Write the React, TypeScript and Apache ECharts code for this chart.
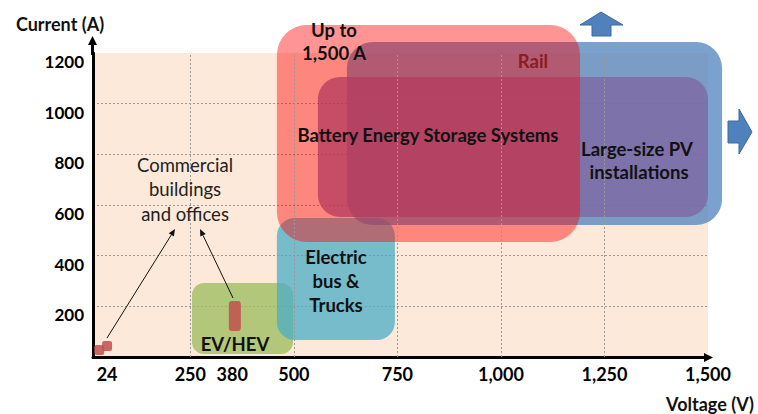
import React, { useEffect, useRef } from "react";
import * as echarts from "echarts";

// Application regions (voltage range in V, current range in A)
const regionNames = ["EV/HEV", "Electric bus & Trucks", "Large-size PV installations", "Battery Energy Storage Systems", "Rail"];
const regionVoltFrom = [254, 459, 628, 558, 459];
const regionVoltTo = [498, 744, 1534, 1500, 1191];
const regionAmpFrom = [12, 67, 521, 553, 454];
const regionAmpTo = [292, 549, 1243, 1105, 1311];

// Small markers (24 V systems and 380 V commercial)
const markNames = ["24 V (a)", "24 V (b)", "380 V"];
const markVoltFrom = [18, 37, 343];
const markVoltTo = [42, 61, 372];
const markAmpFrom = [8, 24, 103];
const markAmpTo = [47, 63, 221];

// Axis ticks
const xGridValues = [250, 500, 750, 1000, 1250];
const xLabelValues = [49, 250, 351, 500, 750, 1000, 1250, 1500];
const xLabelTexts = ["24", "250", "380", "500", "750", "1,000", "1,250", "1,500"];
const yMin = 0;
const yMax = 1200;
const yStep = 200;

const regionFill = [
  "rgba(155,187,89,0.75)",
  "rgba(75,172,198,0.75)",
  "rgba(79,129,189,0.75)",
  "rgba(128,100,162,0.75)",
  "rgba(255,0,0,0.42)",
];
const regionRadius = [12, 18, 26, 22, 30];

const FONT = "Lato, 'Open Sans', sans-serif";

function arrow(x1: number, y1: number, x2: number, y2: number) {
  const dx = x2 - x1;
  const dy = y2 - y1;
  const L = Math.hypot(dx, dy);
  const ux = dx / L;
  const uy = dy / L;
  const hl = 7;
  const hw = 3;
  const bx = x2 - ux * hl;
  const by = y2 - uy * hl;
  return [
    { type: "line", shape: { x1, y1, x2: bx, y2: by }, style: { stroke: "#111", lineWidth: 1 }, z: 50 },
    {
      type: "polygon",
      shape: { points: [[x2, y2], [bx - uy * hw, by + ux * hw], [bx + uy * hw, by - ux * hw]] },
      style: { fill: "#111" },
      z: 50,
    },
  ];
}

function txt(text: string, x: number, y: number, opts: any = {}) {
  return {
    type: "text",
    x,
    y,
    z: 60,
    style: {
      text,
      fontFamily: FONT,
      fontSize: opts.fontSize ?? 18.5,
      fontWeight: opts.fontWeight ?? "bold",
      fill: opts.fill ?? "#111",
      align: "center",
      verticalAlign: "middle",
    },
  };
}

export default function App() {
  const ref = useRef<HTMLDivElement>(null);

  useEffect(() => {
    document.body.style.margin = "0";
    if (!ref.current) return;
    const chart = echarts.init(ref.current, undefined, { renderer: "svg" });

    const regionData = regionNames.map((n, i) => ({
      name: n,
      value: [regionVoltFrom[i], regionVoltTo[i], regionAmpFrom[i], regionAmpTo[i]],
    }));
    const markData = markNames.map((n, i) => ({
      name: n,
      value: [markVoltFrom[i], markVoltTo[i], markAmpFrom[i], markAmpTo[i]],
    }));

    const rectItem = (fills: string[], radii: number[]) => (params: any, api: any) => {
      const p0 = api.coord([api.value(0), api.value(3)]);
      const p1 = api.coord([api.value(1), api.value(2)]);
      const i = params.dataIndex;
      return {
        type: "rect",
        shape: { x: p0[0], y: p0[1], width: p1[0] - p0[0], height: p1[1] - p0[1], r: radii[i] },
        style: { fill: fills[i] },
      };
    };

    const gridLine = { type: [2, 2], color: "#999", width: 1 };

    const option: any = {
      animation: false,
      grid: {
        left: 93,
        right: 50,
        top: 53,
        bottom: 57,
        show: true,
        backgroundColor: "#FCE9DA",
        borderWidth: 0,
      },
      xAxis: {
        type: "value",
        min: 15,
        max: 1500,
        axisLine: { show: true, onZero: false, lineStyle: { color: "#000", width: 3 } },
        axisTick: { show: false },
        splitLine: { show: false },
        axisLabel: {
          customValues: xLabelValues,
          formatter: (v: number) => {
            const k = xLabelValues.indexOf(v);
            return k >= 0 ? xLabelTexts[k] : "";
          },
          fontFamily: FONT,
          fontWeight: "bold",
          fontSize: 18,
          color: "#000",
          margin: 8,
        },
      },
      yAxis: {
        type: "value",
        min: yMin,
        max: yMax,
        interval: yStep,
        axisLine: { show: true, onZero: false, lineStyle: { color: "#000", width: 3 } },
        axisTick: { show: false },
        axisLabel: {
          formatter: (v: number) => (v === 0 ? "" : String(v)),
          fontFamily: FONT,
          fontWeight: "bold",
          fontSize: 17,
          color: "#000",
          margin: 9,
          verticalAlign: "top",
        },
        splitLine: { show: true, showMinLine: false, showMaxLine: false, lineStyle: gridLine },
      },
      series: [
        {
          type: "scatter",
          data: [],
          z: 1,
          markLine: {
            silent: true,
            symbol: ["none", "none"],
            label: { show: false },
            lineStyle: gridLine,
            data: xGridValues.map((v) => ({ xAxis: v })),
          },
        },
        {
          type: "custom",
          name: "regions",
          clip: false,
          z: 2,
          encode: { x: [0, 1], y: [2, 3] },
          renderItem: rectItem(regionFill, regionRadius),
          data: regionData,
        },
        {
          type: "custom",
          name: "marks",
          clip: false,
          z: 3,
          encode: { x: [0, 1], y: [2, 3] },
          renderItem: rectItem(["rgba(192,80,77,0.85)", "rgba(192,80,77,0.85)", "rgba(192,80,77,0.85)"], [2, 2, 3]),
          data: markData,
        },
      ],
      graphic: [
        // y-axis extension and arrowheads
        { type: "line", shape: { x1: 92.5, y1: 55, x2: 92.5, y2: 42 }, style: { stroke: "#000", lineWidth: 3 }, z: 40 },
        { type: "polygon", shape: { points: [[92.5, 36], [97, 45], [88, 45]] }, style: { fill: "#000" }, z: 40 },
        { type: "polygon", shape: { points: [[713, 357.5], [704, 353], [704, 362]] }, style: { fill: "#000" }, z: 40 },
        // blue block arrows
        {
          type: "polygon",
          shape: { points: [[601, 12], [623, 25], [611, 25], [611, 36], [592, 36], [592, 25], [580, 25]] },
          style: { fill: "#4F81BD", stroke: "#3C6A9C", lineWidth: 1 },
          z: 40,
        },
        {
          type: "polygon",
          shape: { points: [[752, 132], [739, 109], [739, 121], [728, 121], [728, 143], [739, 143], [739, 154]] },
          style: { fill: "#4F81BD", stroke: "#3C6A9C", lineWidth: 1 },
          z: 40,
        },
        ...arrow(107, 338, 175, 229),
        ...arrow(233, 298, 200, 229),
        txt("Current (A)", 60, 24, { fontSize: 18 }),
        txt("Voltage (V)", 710, 404, { fontSize: 18 }),
        txt("Up to", 334, 30),
        txt("1,500 A", 334, 53),
        txt("Rail", 533, 61, { fill: "#8E1A22" }),
        txt("Battery Energy Storage Systems", 428, 135),
        txt("Large-size PV", 637, 149),
        txt("installations", 639, 172),
        txt("Commercial", 185, 165, { fontWeight: "normal", fill: "#222" }),
        txt("buildings", 185, 189, { fontWeight: "normal", fill: "#222" }),
        txt("and offices", 185, 214, { fontWeight: "normal", fill: "#222" }),
        txt("Electric", 336, 257),
        txt("bus &", 336, 281),
        txt("Trucks", 336, 305),
        txt("EV/HEV", 235, 344),
      ],
    };

    chart.setOption(option);
    return () => chart.dispose();
  }, []);

  return <div ref={ref} style={{ width: 758, height: 414 }} />;
}
